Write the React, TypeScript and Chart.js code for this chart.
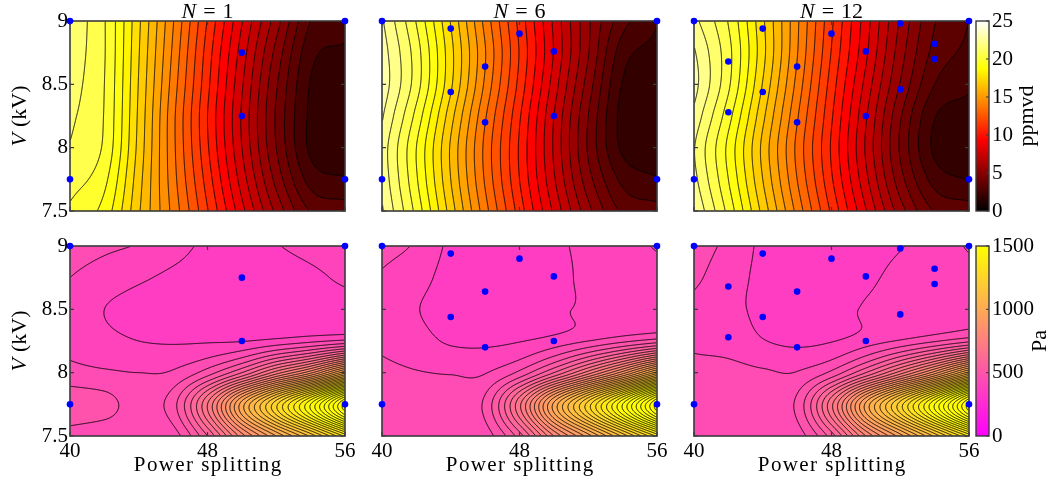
import React, { useEffect, useRef } from "react";
import { Chart, registerables } from "chart.js";

Chart.register(...registerables);

// ---------------- data ----------------
// grid knots of the measured fields
const powerSplitKnots = [40, 42, 44, 46, 48, 50, 52, 54, 56];
const voltageKnots = [9, 8.75, 8.5, 8.25, 8, 7.75, 7.5]; // rows, top to bottom

const powerTicks = [40, 48, 56];
const voltageTicks = [7.5, 8, 8.5, 9];
const no2BarTicks = [0, 5, 10, 15, 20, 25];
const paBarTicks = [0, 500, 1000, 1500];

const panelNs = ["1", "6", "12"];

// NO2 emissions (ppmvd); rows follow voltageKnots, columns follow powerSplitKnots
const no2N1 = [
  [21.5, 20.3, 17.4, 14.3, 11.2, 8.3, 5.6, 3.0, 2.6],
  [21.4, 20.3, 17.3, 14.1, 10.9, 7.9, 5.0, 2.5, 2.1],
  [21.3, 20.25, 17.2, 13.9, 10.7, 7.6, 4.6, 2.2, 1.8],
  [21.15, 20.2, 17.1, 13.7, 10.5, 7.4, 4.4, 2.1, 1.8],
  [20.95, 20.1, 17.0, 13.7, 10.6, 7.5, 4.5, 2.1, 1.8],
  [20.6, 19.7, 16.8, 13.8, 10.9, 7.9, 5.0, 2.7, 2.3],
  [20.1, 19.2, 16.6, 14.0, 11.3, 8.5, 5.8, 3.7, 3.4],
];
const no2N6 = [
  [22.6, 20.2, 17.2, 14.0, 11.0, 8.1, 5.4, 3.3, 2.3],
  [22.9, 20.6, 17.5, 14.3, 11.2, 8.2, 5.3, 2.6, 2.0],
  [23.0, 20.6, 17.4, 14.1, 11.0, 7.9, 4.9, 2.2, 1.8],
  [22.6, 20.0, 16.8, 13.6, 10.6, 7.5, 4.5, 2.0, 1.8],
  [22.2, 19.5, 16.4, 13.3, 10.4, 7.4, 4.4, 2.1, 1.8],
  [22.3, 19.6, 16.5, 13.4, 10.5, 7.6, 4.8, 2.8, 2.3],
  [22.6, 20.0, 16.9, 13.8, 10.9, 8.1, 5.5, 3.6, 3.3],
];
const no2N12 = [
  [22.0, 20.2, 17.4, 14.4, 11.4, 8.6, 5.9, 3.8, 3.0],
  [22.6, 20.5, 17.5, 14.3, 11.2, 8.4, 5.6, 3.5, 2.8],
  [22.8, 20.4, 17.2, 14.0, 10.9, 8.0, 5.2, 3.0, 2.4],
  [22.3, 19.8, 16.7, 13.6, 10.6, 7.6, 4.6, 2.3, 1.9],
  [21.8, 19.3, 16.3, 13.3, 10.4, 7.4, 4.4, 2.1, 1.8],
  [22.0, 19.5, 16.5, 13.5, 10.6, 7.7, 4.8, 2.7, 2.2],
  [22.5, 20.0, 17.0, 14.0, 11.1, 8.3, 5.6, 3.7, 3.4],
];

// pressure drop (Pa)
const paN1 = [
  [440, 428, 417, 395, 372, 362, 378, 392, 405],
  [420, 402, 386, 372, 362, 355, 362, 372, 387],
  [405, 380, 365, 355, 350, 350, 355, 362, 372],
  [410, 392, 380, 376, 376, 378, 392, 410, 430],
  [432, 425, 420, 425, 480, 580, 720, 850, 1050],
  [490, 475, 445, 485, 700, 1000, 1250, 1500, 1800],
  [440, 432, 435, 440, 580, 800, 980, 1150, 1350],
];
const paN6 = [
  [435, 415, 372, 360, 360, 372, 390, 400, 425],
  [415, 395, 365, 352, 352, 365, 390, 395, 400],
  [402, 382, 362, 350, 352, 370, 388, 395, 400],
  [412, 395, 375, 372, 378, 395, 420, 450, 480],
  [430, 422, 418, 418, 470, 580, 720, 880, 1080],
  [445, 440, 438, 470, 690, 990, 1240, 1500, 1800],
  [425, 428, 430, 440, 560, 780, 960, 1150, 1350],
];
const paN12 = [
  [440, 410, 372, 360, 358, 365, 378, 395, 425],
  [428, 398, 370, 355, 355, 372, 390, 398, 405],
  [410, 392, 370, 355, 360, 385, 398, 405, 412],
  [415, 405, 382, 372, 378, 400, 425, 455, 490],
  [430, 432, 425, 422, 470, 580, 720, 880, 1080],
  [445, 448, 445, 470, 690, 990, 1240, 1500, 1800],
  [428, 432, 435, 440, 560, 780, 960, 1150, 1350],
];

// measured operating points [power splitting, V]
const cornerRuns = [[40, 9], [56, 9], [40, 7.75], [56, 7.75]];
const samplesN1 = [[50, 8.75], [50, 8.25]];
const samplesN6 = [[44, 8.94], [46, 8.64], [44, 8.44], [46, 8.2], [48, 8.9], [50, 8.76], [50, 8.25]];
const samplesN12 = [
  [42, 8.68], [42, 8.28], [44, 8.94], [44, 8.44], [46, 8.64], [46, 8.2], [48, 8.9],
  [50, 8.76], [50, 8.25], [52, 8.98], [52, 8.46], [54, 8.82], [54, 8.7],
];

// ---------------- layout / style ----------------
const CW = 1050;
const CH = 485;
const COL_LEFT = [70, 382, 694];
const ROW_TOP = [21, 246];
const PANEL_W = 275;
const PANEL_H = 190;
const CB_LEFT = 976;
const CB_RIGHT = 989;
const Y_AXIS_W = 50;
const X_AXIS_H = 30;
const CB_AXIS_W = 58;
const FONT = "'Liberation Serif', 'Times New Roman', serif";
const FS = 21;
const FRAME = "#3a3a3a";

type Field = number[][];
type Kind = "no2" | "pa";

const clamp01 = (t: number) => (t < 0 ? 0 : t > 1 ? 1 : t);
const hot = (t: number): number[] => {
  t = clamp01(t);
  return [clamp01(t / 0.375) * 255, clamp01((t - 0.375) / 0.375) * 255, clamp01((t - 0.75) / 0.25) * 255];
};
const spring = (t: number): number[] => {
  t = clamp01(t);
  return [255, t * 255, (1 - t) * 255];
};

const KINDS: Record<Kind, { base: number; step: number; vmax: number; cmap: (t: number) => number[] }> = {
  no2: { base: 0, step: 0.75, vmax: 25, cmap: hot },
  pa: { base: 20, step: 40, vmax: 1500, cmap: spring },
};

const catmull = (p0: number, p1: number, p2: number, p3: number, t: number) =>
  0.5 * (2 * p1 + (-p0 + p2) * t + (2 * p0 - 5 * p1 + 4 * p2 - p3) * t * t + (-p0 + 3 * p1 - 3 * p2 + p3) * t * t * t);

function sampleField(f: Field, x: number, v: number): number {
  const nx = powerSplitKnots.length;
  const ny = voltageKnots.length;
  const g = (r: number, c: number): number => {
    if (c < 0) return 2 * g(r, 0) - g(r, 1);
    if (c > nx - 1) return 2 * g(r, nx - 1) - g(r, nx - 2);
    if (r < 0) return 2 * g(0, c) - g(1, c);
    if (r > ny - 1) return 2 * g(ny - 1, c) - g(ny - 2, c);
    return f[r][c];
  };
  const fx = (x - powerSplitKnots[0]) / (powerSplitKnots[1] - powerSplitKnots[0]);
  const fy = (voltageKnots[0] - v) / (voltageKnots[0] - voltageKnots[1]);
  let ci = Math.floor(fx);
  let ri = Math.floor(fy);
  ci = Math.max(0, Math.min(nx - 2, ci));
  ri = Math.max(0, Math.min(ny - 2, ri));
  const tx = fx - ci;
  const ty = fy - ri;
  const row = (r: number) => catmull(g(r, ci - 1), g(r, ci), g(r, ci + 1), g(r, ci + 2), tx);
  return catmull(row(ri - 1), row(ri), row(ri + 1), row(ri + 2), ty);
}

// parts: [text, italic, gapAfter]
type Part = [string, boolean, number];

function drawMixed(ctx: CanvasRenderingContext2D, cx: number, baseline: number, parts: Part[], size = FS, spacing = 0) {
  ctx.textBaseline = "alphabetic";
  ctx.textAlign = "left";
  ctx.fillStyle = "#000";
  (ctx as any).letterSpacing = `${spacing}px`;
  let total = 0;
  const widths = parts.map(([txt, it, gap]) => {
    ctx.font = `${it ? "italic " : ""}${size}px ${FONT}`;
    const w = ctx.measureText(txt).width - spacing;
    total += w + gap;
    return w;
  });
  total -= parts[parts.length - 1][2];
  let x = cx - total / 2;
  parts.forEach(([txt, it, gap], i) => {
    ctx.font = `${it ? "italic " : ""}${size}px ${FONT}`;
    ctx.fillText(txt, x, baseline);
    x += widths[i] + gap;
  });
  (ctx as any).letterSpacing = "0px";
}

function drawRotated(ctx: CanvasRenderingContext2D, x: number, y: number, parts: Part[], size = FS) {
  ctx.save();
  ctx.translate(x, y);
  ctx.rotate(-Math.PI / 2);
  drawMixed(ctx, 0, 0, parts, size);
  ctx.restore();
}

function makeContourPlugin(field: Field, kind: Kind, nLabel: string, showY: boolean, showX: boolean) {
  const k = KINDS[kind];
  return {
    id: "contourField",
    beforeDatasetsDraw(chart: any) {
      const { ctx, chartArea: a, scales } = chart;
      const xs = scales.x;
      const ys = scales.y;
      const left = Math.round(a.left);
      const top = Math.round(a.top);
      const w = Math.round(a.right) - left;
      const h = Math.round(a.bottom) - top;
      const vals = new Float32Array(w * h);
      for (let j = 0; j < h; j++) {
        const v = ys.getValueForPixel(top + j + 0.5);
        for (let i = 0; i < w; i++) {
          vals[j * w + i] = sampleField(field, xs.getValueForPixel(left + i + 0.5), v);
        }
      }
      const off = document.createElement("canvas");
      off.width = w;
      off.height = h;
      const octx = off.getContext("2d")!;
      const img = octx.createImageData(w, h);
      for (let p = 0; p < w * h; p++) {
        const lv = Math.floor((vals[p] - k.base) / k.step);
        const mid = k.base + (lv + 0.5) * k.step;
        const c = k.cmap(mid / k.vmax);
        img.data[p * 4] = c[0];
        img.data[p * 4 + 1] = c[1];
        img.data[p * 4 + 2] = c[2];
        img.data[p * 4 + 3] = 255;
      }
      octx.putImageData(img, 0, 0);
      ctx.save();
      ctx.drawImage(off, left, top);

      // contour lines (marching squares on pixel centres)
      ctx.beginPath();
      for (let j = 0; j < h - 1; j++) {
        for (let i = 0; i < w - 1; i++) {
          const v0 = vals[j * w + i];
          const v1 = vals[j * w + i + 1];
          const v2 = vals[(j + 1) * w + i + 1];
          const v3 = vals[(j + 1) * w + i];
          const lo = Math.min(v0, v1, v2, v3);
          const hi = Math.max(v0, v1, v2, v3);
          const k0 = Math.ceil((lo - k.base) / k.step);
          const k1 = Math.floor((hi - k.base) / k.step);
          for (let q = k0; q <= k1; q++) {
            const L = k.base + q * k.step;
            if (L <= lo || L >= hi) continue;
            const px = left + i + 0.5;
            const py = top + j + 0.5;
            const pts: number[] = [];
            const edge = (va: number, vb: number, ax: number, ay: number, bx: number, by: number) => {
              if ((va < L) !== (vb < L)) {
                const t = (L - va) / (vb - va);
                pts.push(px + ax + (bx - ax) * t, py + ay + (by - ay) * t);
              }
            };
            edge(v0, v1, 0, 0, 1, 0);
            edge(v1, v2, 1, 0, 1, 1);
            edge(v2, v3, 1, 1, 0, 1);
            edge(v3, v0, 0, 1, 0, 0);
            for (let s = 0; s + 3 < pts.length; s += 4) {
              ctx.moveTo(pts[s], pts[s + 1]);
              ctx.lineTo(pts[s + 2], pts[s + 3]);
            }
          }
        }
      }
      ctx.strokeStyle = "#000";
      ctx.lineWidth = 0.9;
      ctx.stroke();

      // frame and inward ticks
      ctx.strokeStyle = FRAME;
      ctx.lineWidth = 1.6;
      ctx.strokeRect(a.left, a.top, a.right - a.left, a.bottom - a.top);
      ctx.beginPath();
      ctx.lineWidth = 1.2;
      voltageTicks.forEach((v) => {
        const y = ys.getPixelForValue(v);
        ctx.moveTo(a.left, y);
        ctx.lineTo(a.left + 4, y);
        ctx.moveTo(a.right, y);
        ctx.lineTo(a.right - 4, y);
      });
      powerTicks.forEach((v) => {
        const x = xs.getPixelForValue(v);
        ctx.moveTo(x, a.bottom);
        ctx.lineTo(x, a.bottom - 4);
        ctx.moveTo(x, a.top);
        ctx.lineTo(x, a.top + 4);
      });
      ctx.stroke();
      ctx.restore();
    },
    afterDraw(chart: any) {
      const { ctx, chartArea: a } = chart;
      ctx.save();
      const cx = (a.left + a.right) / 2;
      if (kind === "no2") {
        drawMixed(ctx, cx, a.top - 3, [["N", true, 7], ["=", false, 7], [nLabel, false, 0]], 22);
      }
      if (showX) {
        drawMixed(ctx, cx, a.bottom + 35, [["Power splitting", false, 0]], FS, 1.4);
      }
      if (showY) {
        drawRotated(ctx, 26, (a.top + a.bottom) / 2, [["V", true, 6], ["(kV)", false, 0]], 22);
      }
      ctx.restore();
    },
  };
}

function makeColorbarPlugin(kind: Kind, title: string, titleX: number) {
  const k = KINDS[kind];
  return {
    id: "colorbarFill",
    beforeDraw(chart: any) {
      const { ctx, chartArea: a, scales } = chart;
      const ys = scales.y;
      ctx.save();
      for (let y = Math.floor(a.top); y < Math.ceil(a.bottom); y++) {
        const v = ys.getValueForPixel(y + 0.5);
        const c = k.cmap(v / k.vmax);
        ctx.fillStyle = `rgb(${c[0] | 0},${c[1] | 0},${c[2] | 0})`;
        ctx.fillRect(a.left, y, a.right - a.left, 1);
      }
      ctx.strokeStyle = FRAME;
      ctx.lineWidth = 1.4;
      ctx.strokeRect(a.left, a.top, a.right - a.left, a.bottom - a.top);
      ctx.beginPath();
      ys.ticks.forEach((t: any) => {
        const y = ys.getPixelForValue(t.value);
        ctx.moveTo(a.right, y);
        ctx.lineTo(a.right - 3, y);
      });
      ctx.lineWidth = 1;
      ctx.stroke();
      drawRotated(ctx, titleX, (a.top + a.bottom) / 2, [[title, false, 0]], 22);
      ctx.restore();
    },
  };
}

const tickFont = { family: FONT, size: FS };

const App: React.FC = () => {
  const refs = useRef<(HTMLCanvasElement | null)[]>([]);

  useEffect(() => {
    document.body.style.margin = "0";
    const charts: Chart[] = [];
    const fields: Field[][] = [
      [no2N1, no2N6, no2N12],
      [paN1, paN6, paN12],
    ];
    const samples = [samplesN1, samplesN6, samplesN12];
    let idx = 0;
    for (let row = 0; row < 2; row++) {
      for (let col = 0; col < 3; col++) {
        const canvas = refs.current[idx++];
        if (!canvas) continue;
        const L = COL_LEFT[col];
        const T = ROW_TOP[row];
        const R = L + PANEL_W;
        const B = T + PANEL_H;
        const showY = col === 0;
        const showX = row === 1;
        const kind: Kind = row === 0 ? "no2" : "pa";
        const pts = [...cornerRuns, ...samples[col]].map(([x, y]) => ({ x, y }));
        const cfg: any = {
          type: "scatter",
          data: {
            datasets: [
              {
                data: pts,
                backgroundColor: "#0000ff",
                borderColor: "#0000ff",
                pointRadius: 3.3,
                pointBorderWidth: 0,
                clip: false,
              },
            ],
          },
          options: {
            animation: false,
            responsive: false,
            devicePixelRatio: 1,
            layout: {
              padding: {
                left: showY ? L - Y_AXIS_W : L,
                top: T,
                right: CW - R,
                bottom: showX ? CH - B - X_AXIS_H : CH - B,
              },
            },
            plugins: { legend: { display: false }, tooltip: { enabled: false } },
            scales: {
              x: {
                type: "linear",
                min: 40,
                max: 56,
                display: showX,
                grid: { display: false, drawTicks: false },
                border: { display: false },
                ticks: { font: tickFont, color: "#000", padding: 3, maxRotation: 0, autoSkip: false, callback: (v: any) => String(v) },
                afterBuildTicks: (s: any) => {
                  s.ticks = powerTicks.map((v) => ({ value: v }));
                },
                afterFit: (s: any) => {
                  s.height = showX ? X_AXIS_H : 0;
                },
              },
              y: {
                type: "linear",
                min: 7.5,
                max: 9,
                display: showY,
                grid: { display: false, drawTicks: false },
                border: { display: false },
                ticks: { font: tickFont, color: "#000", padding: 2, autoSkip: false, callback: (v: any) => String(v) },
                afterBuildTicks: (s: any) => {
                  s.ticks = voltageTicks.map((v) => ({ value: v }));
                },
                afterFit: (s: any) => {
                  s.width = showY ? Y_AXIS_W : 0;
                },
              },
            },
          },
          plugins: [makeContourPlugin(fields[row][col], kind, panelNs[col], showY, showX)],
        };
        charts.push(new Chart(canvas, cfg));
      }
    }
    // colour bars
    const bars: { kind: Kind; ticks: number[]; title: string; titleX: number }[] = [
      { kind: "no2", ticks: no2BarTicks, title: "ppmvd", titleX: 1033 },
      { kind: "pa", ticks: paBarTicks, title: "Pa", titleX: 1046 },
    ];
    bars.forEach((b, r) => {
      const canvas = refs.current[6 + r];
      if (!canvas) return;
      const T = ROW_TOP[r];
      const B = T + PANEL_H;
      const cfg: any = {
        type: "scatter",
        data: { datasets: [] },
        options: {
          animation: false,
          responsive: false,
          devicePixelRatio: 1,
          layout: { padding: { left: CB_LEFT, top: T, right: CW - CB_RIGHT - CB_AXIS_W, bottom: CH - B } },
          plugins: { legend: { display: false }, tooltip: { enabled: false } },
          scales: {
            x: { type: "linear", display: false, min: 0, max: 1 },
            y: {
              type: "linear",
              position: "right",
              min: 0,
              max: KINDS[b.kind].vmax,
              grid: { display: false, drawTicks: false },
              border: { display: false },
              ticks: { font: tickFont, color: "#000", padding: 3, autoSkip: false, callback: (v: any) => String(v) },
              afterBuildTicks: (s: any) => {
                s.ticks = b.ticks.map((v) => ({ value: v }));
              },
              afterFit: (s: any) => {
                s.width = CB_AXIS_W;
              },
            },
          },
        },
        plugins: [makeColorbarPlugin(b.kind, b.title, b.titleX)],
      };
      charts.push(new Chart(canvas, cfg));
    });
    return () => charts.forEach((c) => c.destroy());
  }, []);

  return (
    <div style={{ position: "relative", width: CW, height: CH, background: "#fff" }}>
      {Array.from({ length: 8 }).map((_, i) => (
        <canvas
          key={i}
          ref={(el) => {
            refs.current[i] = el;
          }}
          width={CW}
          height={CH}
          style={{ position: "absolute", left: 0, top: 0 }}
        />
      ))}
    </div>
  );
};

export default App;
